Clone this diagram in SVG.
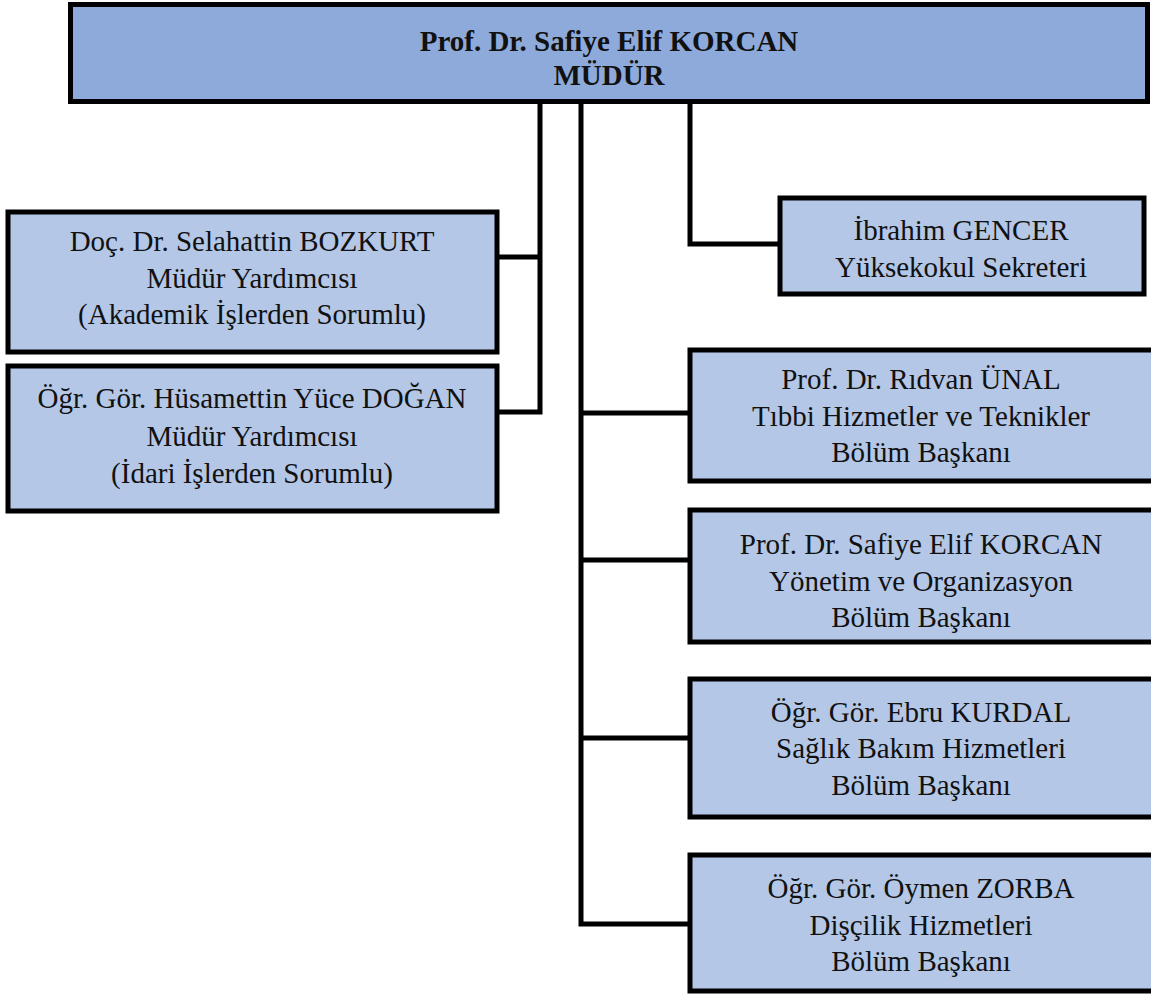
<svg xmlns="http://www.w3.org/2000/svg" width="1151" height="996" viewBox="0 0 1151 996">
<style>
.box{fill:#B4C7E7;stroke:#000;stroke-width:5}
.top{fill:#8EAADB;stroke:#000;stroke-width:5}
.t{font-family:'Liberation Serif','DejaVu Serif',serif;font-size:29px;fill:#111;text-anchor:middle}
.b{font-weight:bold}
.c{fill:none;stroke:#000;stroke-width:5;stroke-linecap:square;stroke-linejoin:miter}
</style>
<rect width="1151" height="996" fill="#fff"/>
<g id="connectors">
<path class="c" d="M540,103 V412 M499,257 H540 M499,412 H540"/>
<path class="c" d="M581,103 V924 M581,413 H688 M581,560 H688 M581,738 H688 M581,924 H688"/>
<path class="c" d="M690,103 V244 H778"/>
</g>
<g id="mudur">
<rect class="top" x="70.5" y="4.5" width="1077" height="97"/>
<text class="t b" x="609" y="51" font-family="Liberation Serif, serif">Prof. Dr. Safiye Elif KORCAN</text>
<text class="t b" x="609" y="85" font-family="Liberation Serif, serif">MÜDÜR</text>
</g>
<g id="bozkurt">
<rect class="box" x="8" y="212" width="489" height="140"/>
<text class="t" x="252" y="251">Doç. Dr. Selahattin BOZKURT</text>
<text class="t" x="252" y="288">Müdür Yardımcısı</text>
<text class="t" x="252" y="324">(Akademik İşlerden Sorumlu)</text>
</g>
<g id="dogan">
<rect class="box" x="8" y="366" width="489" height="145"/>
<text class="t" x="252" y="408">Öğr. Gör. Hüsamettin Yüce DOĞAN</text>
<text class="t" x="252" y="446">Müdür Yardımcısı</text>
<text class="t" x="252" y="483">(İdari İşlerden Sorumlu)</text>
</g>
<g id="gencer">
<rect class="box" x="780" y="198" width="364" height="96"/>
<text class="t" x="961" y="240">İbrahim GENCER</text>
<text class="t" x="961" y="277">Yüksekokul Sekreteri</text>
</g>
<g id="unal">
<rect class="box" x="690" y="350" width="470" height="131"/>
<text class="t" x="921" y="389">Prof. Dr. Rıdvan ÜNAL</text>
<text class="t" x="921" y="426">Tıbbi Hizmetler ve Teknikler</text>
<text class="t" x="921" y="462">Bölüm Başkanı</text>
</g>
<g id="korcan">
<rect class="box" x="690" y="510" width="470" height="132"/>
<text class="t" x="921" y="554">Prof. Dr. Safiye Elif KORCAN</text>
<text class="t" x="921" y="591">Yönetim ve Organizasyon</text>
<text class="t" x="921" y="627">Bölüm Başkanı</text>
</g>
<g id="kurdal">
<rect class="box" x="690" y="679" width="470" height="138"/>
<text class="t" x="921" y="722">Öğr. Gör. Ebru KURDAL</text>
<text class="t" x="921" y="758">Sağlık Bakım Hizmetleri</text>
<text class="t" x="921" y="795">Bölüm Başkanı</text>
</g>
<g id="zorba">
<rect class="box" x="690" y="855" width="470" height="136"/>
<text class="t" x="921" y="898">Öğr. Gör. Öymen ZORBA</text>
<text class="t" x="921" y="935">Dişçilik Hizmetleri</text>
<text class="t" x="921" y="971">Bölüm Başkanı</text>
</g>
</svg>
